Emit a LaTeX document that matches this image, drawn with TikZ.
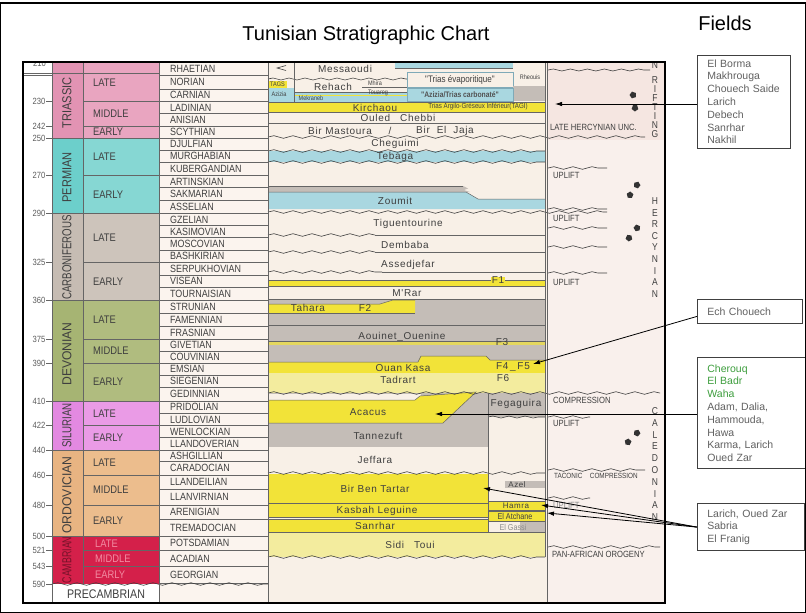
\documentclass[tikz,border=0pt]{standalone}
\usepackage{fontspec}
\setmainfont{Liberation Sans}
\newfontfamily\cf{Liberation Sans}[FakeStretch=0.85]
\newfontfamily\ff{Liberation Sans}[LetterSpace=7]
\usetikzlibrary{decorations.pathmorphing,arrows.meta,shapes.geometric}
\newcommand\sxl[2]{\scalebox{#1}[1]{#2}}
\definecolor{txt}{HTML}{3F3F3F}
\definecolor{stgbg}{HTML}{FBF4EE}
\definecolor{rockbg}{HTML}{F8F0E7}
\definecolor{tecbg}{HTML}{F9F0EC}
\definecolor{tectop}{HTML}{F5E6E1}
\definecolor{triE}{HTML}{E293B3}
\definecolor{triP}{HTML}{E9A5C0}
\definecolor{permE}{HTML}{6CCFCB}
\definecolor{permP}{HTML}{86D7D3}
\definecolor{carbE}{HTML}{C6BCB3}
\definecolor{carbP}{HTML}{CDC4BB}
\definecolor{devE}{HTML}{A6B473}
\definecolor{devP}{HTML}{B0BC7F}
\definecolor{silE}{HTML}{E389E1}
\definecolor{silP}{HTML}{EA9BE6}
\definecolor{ordE}{HTML}{E8B482}
\definecolor{ordP}{HTML}{ECBD8D}
\definecolor{camE}{HTML}{D4204A}
\definecolor{camT}{HTML}{F28CA2}
\definecolor{ylw}{HTML}{F2E338}
\definecolor{lylw}{HTML}{F3EC9E}
\definecolor{blu}{HTML}{A9D7E0}
\definecolor{bluln}{HTML}{7FAAB8}
\definecolor{gry}{HTML}{C4BDB7}
\definecolor{grn}{HTML}{3E9E3E}
\begin{document}
\begin{tikzpicture}[x=1pt,y=-1pt,
  stg/.style={anchor=west, font=\cf\fontsize{10.5}{11}\selectfont, text=txt, inner sep=0pt},
  epo/.style={anchor=west, font=\cf\fontsize{11}{12}\selectfont, text=txt, inner sep=0pt},
  eralab/.style={rotate=90, font=\cf\fontsize{13}{13}\selectfont, text=txt, inner sep=0pt},
  age/.style={anchor=east, font=\cf\fontsize{9}{9}\selectfont, text=txt!85, inner sep=0pt},
  fm/.style={font=\ff\fontsize{10}{10}\selectfont, text=txt, inner sep=0pt},
  tiny/.style={font=\cf\fontsize{6.5}{7}\selectfont, text=txt, inner sep=0pt},
  tec/.style={anchor=west, font=\cf\fontsize{9}{9}\selectfont, text=txt, inner sep=0pt},
  vlet/.style={font=\cf\fontsize{10}{10}\selectfont, text=txt, inner sep=0pt},
  wv/.style={decorate, decoration={snake, amplitude=1.3pt, segment length=19pt}, draw=txt, line width=0.6pt},
  ln/.style={draw=txt!80, line width=0.5pt},
  fbox/.style={draw=black!75, line width=0.8pt, anchor=north west, align=left,
    font=\fontsize{10.5}{12.8}\selectfont, text=black!62, inner xsep=10pt, inner ysep=5pt},
  arr/.style={-{Latex[length=7pt,width=4.5pt]}, line width=0.8pt, black},
  pent/.style={regular polygon, regular polygon sides=5, fill=black!80, minimum size=7pt, inner sep=0pt},
]
\useasboundingbox (0,0) rectangle (806,613);
\fill[white] (0,0) rectangle (806,613);

% ---------- titles ----------
\node (title) at (366,35) {\fontsize{20}{20}\selectfont Tunisian Stratigraphic Chart};
\node (fields) at (725,23) {\fontsize{20}{20}\selectfont Fields};

% ---------- backgrounds ----------
\fill[stgbg] (159,62) rectangle (268,603);
\fill[rockbg] (268,62) rectangle (547,603);
\fill[tecbg] (547,62) rectangle (665,603);
\fill[tectop] (547,62) rectangle (665,140);

% ---------- era / epoch colours ----------
\fill[triE] (52,62) rectangle (83,138.3);   \fill[triP] (83,62) rectangle (159,138.3);
\fill[permE] (52,138.3) rectangle (83,213.3); \fill[permP] (83,138.3) rectangle (159,213.3);
\fill[carbE] (52,213.3) rectangle (83,300);   \fill[carbP] (83,213.3) rectangle (159,300);
\fill[devE] (52,300) rectangle (83,401);      \fill[devP] (83,300) rectangle (159,401);
\fill[silE] (52,401) rectangle (83,450);      \fill[silP] (83,401) rectangle (159,450);
\fill[ordE] (52,450) rectangle (83,536);      \fill[ordP] (83,450) rectangle (159,536);
\fill[camE] (52,536) rectangle (159,584);

% ---------- stages ----------
\foreach \n/\a/\b [count=\i] in {RHAETIAN/62/75.7, NORIAN/75.7/89, CARNIAN/89/101.7, LADINIAN/101.7/113.3,
  ANISIAN/113.3/126, SCYTHIAN/126/138.3, DJULFIAN/138.3/150, MURGHABIAN/150/162.3,
  KUBERGANDIAN/162.3/175.7, ARTINSKIAN/175.7/187.7, SAKMARIAN/187.7/200.7, ASSELIAN/200.7/213.3,
  GZELIAN/213.3/225.7, KASIMOVIAN/225.7/237.7, MOSCOVIAN/237.7/250, BASHKIRIAN/250/262.7,
  SERPUKHOVIAN/262.7/275, VISEAN/275/287.3, TOURNAISIAN/287.3/300, STRUNIAN/300/313.3,
  FAMENNIAN/313.3/326.7, FRASNIAN/326.7/339, GIVETIAN/339/351, COUVINIAN/351/363.3,
  EMSIAN/363.3/375, SIEGENIAN/375/387.7, GEDINNIAN/387.7/401, PRIDOLIAN/401/413.3,
  LUDLOVIAN/413.3/425.7, WENLOCKIAN/425.7/437.7, LLANDOVERIAN/437.7/450, ASHGILLIAN/450/461.7,
  CARADOCIAN/461.7/475, LLANDEILIAN/475/489.3, LLANVIRNIAN/489.3/505, ARENIGIAN/505/519.3,
  TREMADOCIAN/519.3/536, POTSDAMIAN/536/550.7, ACADIAN/550.7/566.7, GEORGIAN/566.7/583.3}
{
  \node[stg] (s\i) at (170,{(\a+\b)/2}) {\n};
  \draw[ln] (159,\b) -- (268,\b);
}

% ---------- epochs ----------
\foreach \n/\y [count=\i] in {LATE/83, MIDDLE/114, EARLY/132.2, LATE/157, EARLY/194.5, LATE/238,
  EARLY/281.3, LATE/319.5, MIDDLE/351, EARLY/382, LATE/413.3, EARLY/437.8, LATE/462.5,
  MIDDLE/490, EARLY/520.5}
{ \node[epo] (e\i) at (93,\y) {\n}; }
\node[epo, text=camT] (e16) at (95,543.3) {LATE};
\node[epo, text=camT] (e17) at (95,558.7) {MIDDLE};
\node[epo, text=camT] (e18) at (95,575) {EARLY};
\foreach \y in {101.7,126,175.7,262.7,339,363.3,425.7,475,505,550.7,566.7}
{ \draw[ln] (83,\y) -- (159,\y); \draw[ln] (46,\y) -- (52,\y); }
\foreach \y in {138.3,213.3,300,401,450,536}
{ \draw[ln] (46,\y) -- (268,\y); }
\draw[ln] (23,73) -- (159,73);

% ---------- ages ----------
\begin{scope}
\clip (23,63) rectangle (52,80);
\node[age] (a210) at (46,63) {210};
\end{scope}
\foreach \t/\y [count=\i] in {230/101.7, 242/126, 250/138.3, 270/175.7, 290/213.3, 325/262.7, 360/300,
  375/339, 390/363.3, 410/401, 422/425.7, 440/450, 460/475, 480/505, 500/536, 521/550.7,
  543/566.7, 590/584}
{ \node[age] (a\i) at (45.5,\y) {\t}; }
\draw[ln] (46,584) -- (52,584);

% ---------- eras ----------
\node[eralab] (tri) at (67,103) {TRIASSIC};
\node[eralab] (perm) at (67,177.5) {PERMIAN};
\node[eralab] (carb) at (67,257.5) {\sxl{0.88}{CARBONIFEROUS}};
\node[eralab] (dev) at (67,354) {\sxl{1.1}{DEVONIAN}};
\node[eralab] (sil) at (67,425.5) {\sxl{0.88}{SILURIAN}};
\node[eralab] (ord) at (67,495) {\sxl{1.1}{ORDOVICIAN}};
\node[eralab, text=camE!55!black] (camb) at (67,560) {\sxl{0.8}{CAMBRIAN}};
\fill[white] (52,585) rectangle (159,603);
\draw[wv] (52,584) -- (268,584);
\node[font=\cf\fontsize{12.5}{13}\selectfont, text=txt, inner sep=0pt] (precamb) at (106,594) {PRECAMBRIAN};

% ---------- rock column : Triassic ----------
\fill[blu] (395,62) rectangle (513,68);
\draw[ln] (395,68) -- (513,68);
\draw[txt, line width=0.6pt] (286,65.5) -- (277,68) -- (286,70.5);
\node[fm] (messaoudi) at (345,69) {Messaoudi};
\draw[wv, decoration={amplitude=1pt, segment length=16pt}] (268,79) -- (407,79);
\draw[draw=bluln, fill=rockbg, line width=0.6pt] (407,72) rectangle (513,87);
\node[font=\cf\fontsize{9.5}{10}\selectfont, text=txt, inner sep=0pt] (trev) at (460,79.5) {"Trias évaporitique"};
\fill[gry] (513,86) rectangle (545,101);
\node[tiny] (rheouis) at (530,77) {Rheouis};
\fill[ylw] (268,81) rectangle (287,88);
\node[tiny] (tags) at (277.5,84.5) {TAGS};
\fill[blu] (268,88) rectangle (294,102);
\fill[blu] (294,92) rectangle (407,102);
\draw[ln] (294,92) -- (407,92);
\node[fm] (rehach) at (333,86.5) {Rehach};
\node[tiny] (mhira) at (375,83.5) {Mhira};
\draw[ln] (362,87) -- (407,87);
\draw[ylw, line width=1.3pt] (295,95.5) -- (407,95.5);
\node[tiny] (azizia) at (279,94) {Azizia};
\node[tiny] (mekraneb) at (311,98.5) {Mekraneb};
\node[tiny] (touareg) at (378,93) {Touareg};
\draw[draw=bluln, fill=blu, line width=0.6pt] (407,88) rectangle (513,101);
\node[font=\cf\bfseries\fontsize{8}{9}\selectfont, text=txt!90, inner sep=0pt] (trcarb) at (460,94.5) {"Azizia/Trias carbonaté"};
\draw[ln] (294,62) -- (294,102);
\fill[ylw] (268,102) rectangle (545,112);
\draw[ln] (268,102) -- (545,102);
\draw[ln] (268,112) -- (545,112);
\node[fm] (kirchaou) at (375,107.5) {Kirchaou};
\node[font=\cf\fontsize{7.3}{8}\selectfont, text=txt, inner sep=0pt] (tagi) at (478,106.5) {Trias Argilo-Gréseux Inférieur(TAGI)};
\node[fm] (ouled) at (398,118) {Ouled\quad Chebbi};
\draw[ln] (268,123) -- (545,123);
\node[fm] (birm) at (340,130.5) {Bir Mastoura};
\node[fm] (slash) at (390,130.5) {/};
\node[fm] (birj) at (445,130.5) {Bir\ \ El\ \ Jaja};
\draw[wv] (268,137) -- (645,137);

% ---------- Permian ----------
\node[fm] (cheguimi) at (395,144) {Cheguimi};
\fill[blu] (268,151) rectangle (545,162);
\draw[wv] (268,151) -- (545,151);
\draw[wv] (268,162) -- (545,162);
\node[fm] (tebaga) at (395,156.5) {Tebaga};
\fill[gry] (268,186) -- (463,186) -- (468,188.5) -- (464,190) -- (470,192) -- (268,192) -- cycle;
\draw[ln] (268,186) -- (463,186);
\fill[blu] (268,192) -- (466,192) -- (478,199) -- (545,199) -- (545,209) -- (268,209) -- cycle;
\draw[ln] (268,192) -- (466,192) -- (478,199) -- (545,199);
\node[fm] (zoumit) at (395,200.5) {Zoumit};
\draw[wv] (268,212) -- (607,212);

% ---------- Carboniferous ----------
\node[fm] (tigu) at (408,224) {Tiguentourine};
\draw[wv] (268,235) -- (375,235);
\draw[ln] (375,235) -- (545,235);
\node[fm] (dembaba) at (405,245) {Dembaba};
\draw[wv] (268,252) -- (375,252);
\draw[ln] (375,252) -- (545,252);
\node[fm] (assed) at (408,265) {Assedjefar};
\draw[wv] (268,272) -- (382,272);
\draw[ln] (382,272) -- (545,272);
\fill[ylw] (268,280) rectangle (545,286);
\draw[ln] (268,280) -- (545,280);
\draw[ln] (268,286) -- (545,286);
\node[fm, fill=ylw, inner xsep=1pt] (f1) at (498,280.5) {F1};
\node[fm] (mrar) at (407,293.5) {M'Rar};

% ---------- Devonian ----------
\fill[gry] (268,299) rectangle (545,362);
\draw[ln] (268,299) -- (545,299);
\fill[ylw] (268,304) -- (380,304) -- (393,300) -- (415,300) -- (415,313) -- (268,313) -- cycle;
\draw[ln] (268,304) -- (380,304) -- (393,300) -- (415,300);
\draw[ln] (268,313) -- (415,313);
\node[fm] (tahara) at (308,308) {Tahara};
\node[fm] (f2) at (365,308) {F2};
\draw[ln] (268,325) -- (545,325);
\node[fm] (aouinet) at (402,337) {Aouinet\_Ouenine};
\fill[ylw!70!gry] (268,341) rectangle (545,345);
\draw[ln] (268,341) -- (545,341);
\node[fm] (f3) at (502,342.5) {F3};
\fill[ylw] (268,362) -- (418,362) -- (421,356) -- (486,356) -- (490,360) -- (545,360) -- (545,373) -- (268,373) -- cycle;
\draw[ln] (268,362) -- (418,362) -- (421,356) -- (486,356) -- (490,360) -- (545,360);
\draw[ln] (268,373) -- (545,373);
\node[fm] (ouan) at (403,368) {Ouan\ Kasa};
\node[fm] (f45) at (513,367) {F4\,\_\,F5};
\fill[lylw] (268,373) rectangle (545,393);
\node[fm] (tadrart) at (398,380) {Tadrart};
\node[fm] (f6) at (503,378) {F6};

% ---------- Silurian ----------
\fill[gry] (268,393) rectangle (488,447);
\fill[rockbg] (268,394) rectangle (421,400);
\fill[ylw] (268,400) -- (415,400) -- (420,396) -- (476,392) -- (443,423) -- (268,423) -- cycle;
\draw[ln] (268,400) -- (415,400) -- (420,396) -- (476,392) -- (443,423) -- (268,423);
\node[fm] (acacus) at (368,412) {Acacus};
\fill[gry] (488,393) rectangle (545,417);
\draw[wv, decoration={amplitude=1pt, segment length=16pt}] (488,417) -- (545,417);
\node[fm] (fegag) at (516,404) {Fegaguira};
\node[fm] (tannez) at (378,436) {Tannezuft};
\draw[ln] (268,447) -- (488,447);
\fill[rockbg] (268,447.3) rectangle (488,473);
\node[fm] (jeffara) at (375,460) {Jeffara};
\draw[wv] (268,393) -- (660,393);

% ---------- Ordovician ----------
\fill[ylw] (268,474) rectangle (488,503);
\fill[ylw] (268,503.5) rectangle (488,517);
\fill[ylw] (268,519) rectangle (488,532);
\draw[ln] (268,503) -- (488,503);
\draw[ln] (268,517) -- (488,517);
\draw[ln] (268,519) -- (488,519);
\node[fm] (bbt) at (375,489) {Bir\ Ben\ Tartar};
\node[fm] (kasbah) at (377,511) {Kasbah\ Leguine};
\node[fm] (sanrhar) at (375,526) {Sanrhar};
\fill[gry] (505,481) rectangle (545,488);
\node[fm, font=\ff\fontsize{8}{8}\selectfont] (azel) at (517,484.5) {Azel};
\fill[ylw] (488,501) rectangle (545,510);
\draw[ln] (488,501) rectangle (545,510);
\node[fm, font=\ff\fontsize{8}{8}\selectfont] (hamra) at (516,506) {Hamra};
\fill[ylw] (488,511) rectangle (545,521);
\draw[ln] (488,511) rectangle (545,521);
\node[fm, font=\cf\fontsize{8.5}{9}\selectfont] (atchane) at (515,516.5) {El\ Atchane};
\fill[gry] (520,522) rectangle (545,532);
\node[fm, font=\cf\fontsize{8.5}{9}\selectfont, text=txt!60] (gassi) at (513,527) {El\ Gassi};
\draw[wv] (268,473) -- (545,473);
\draw[ln] (488,393) -- (488,532);

% ---------- Cambrian ----------
\fill[lylw] (268,532) rectangle (545,557);
\draw[ln] (268,532) -- (545,532);
\draw[wv] (268,557) -- (545,557);
\node[fm] (siditoui) at (410,545) {Sidi\quad Toui};

% ---------- tectonic column ----------
\draw[wv, decoration={amplitude=1pt, segment length=17pt}] (548,70) -- (650,70);
\node[tec] (lhu) at (550,127) {LATE HERCYNIAN UNC.};
\draw[wv] (548,168) -- (607,168);
\node[tec] (up1) at (553,175.5) {UPLIFT};
\draw[wv] (548,209) -- (607,209);
\node[tec] (up2) at (553,218) {UPLIFT};
\draw[wv] (548,228) -- (607,228);
\draw[wv] (548,247) -- (607,247);
\draw[wv] (548,273) -- (607,273);
\node[tec] (up3) at (553,282) {UPLIFT};
\node[tec] (comp) at (553,400) {COMPRESSION};
\draw[wv] (548,417) -- (590,417);
\node[tec] (up4) at (553,423) {UPLIFT};
\draw[wv] (548,470) -- (645,470);
\node[tec, font=\cf\fontsize{7.5}{8}\selectfont] (taco) at (554,476) {TACONIC\quad COMPRESSION};
\draw[wv] (548,498) -- (590,498);
\node[tec, text=txt!60] (up5) at (553,505) {UPLIFT};
\draw[wv] (548,547) -- (660,547);
\node[tec] (pan) at (552,554) {PAN-AFRICAN OROGENY};
\node[vlet] (rN) at (655,65) {N};
\foreach \l [count=\i] in {R,I,F,T,I,N,G}
{ \node[vlet] (rf\i) at (655,{80+(\i-1)*9}) {\l}; }
\foreach \l [count=\i] in {H,E,R,C,Y,N,I,A,N}
{ \node[vlet] (hc\i) at (655,{201+(\i-1)*11.6}) {\l}; }
\foreach \l [count=\i] in {C,A,L,E,D,O,N,I,A,N}
{ \node[vlet] (cl\i) at (655,{411+(\i-1)*11.8}) {\l}; }
\foreach \x/\y [count=\i] in {633/95, 635/108, 637/185, 630/195, 637/228, 629/238, 637/433, 628/442}
{ \node[pent, rotate=\i*17] (st\i) at (\x,\y) {}; }

% ---------- column lines and frame ----------
\draw[ln] (52,62) -- (52,603);
\draw[ln] (83,62) -- (83,584);
\draw[ln] (159,62) -- (159,603);
\draw[ln] (268,62) -- (268,603);
\draw[ln] (545,62) -- (545,557);
\draw[ln] (547,62) -- (547,603);
\draw[ln] (23,75.7) -- (52,75.7);
\draw[black, line width=2pt] (23,62) rectangle (665,603);

% ---------- field boxes ----------
\node[fbox, text width=73pt, inner ysep=4pt] (fb1) at (697,55) {El Borma\\Makhrouga\\Chouech Saide\\Larich\\Debech\\Sanrhar\\Nakhil};
\node[fbox, text width=85pt, minimum height=24pt, inner ysep=3pt] (fb2) at (697,299) {Ech Chouech};
\node[fbox, text width=88pt, inner ysep=7pt] (fb3) at (697,357) {\textcolor{grn}{Cherouq}\\\textcolor{grn}{El Badr}\\\textcolor{grn}{Waha}\\Adam, Dalia,\\Hammouda,\\Hawa\\Karma, Larich\\Oued Zar};
\node[fbox, text width=87pt, inner ysep=6pt] (fb4) at (697,503) {Larich, Oued Zar\\Sabria\\El Franig};

\coordinate (t1) at (555,104);
\coordinate (t2) at (533,364);
\coordinate (t3) at (435,414);
\coordinate (t4a) at (483,488);
\coordinate (t4b) at (541,505);
\coordinate (t4c) at (547,513);
\draw[arr] (fb1.west |- t1) -- (t1);
\draw[arr] ([yshift=-5pt]fb2.west) -- (t2);
\draw[arr] (fb3.west |- t3) -- (t3);
\draw[arr] (fb4.west) -- (t4a);
\draw[arr] (fb4.west) -- (t4b);
\draw[arr] (fb4.west) -- (t4c);

% outer border
\draw[black, line width=1.2pt] (0.6,3) rectangle (805.4,612.4);
\end{tikzpicture}
\end{document}
